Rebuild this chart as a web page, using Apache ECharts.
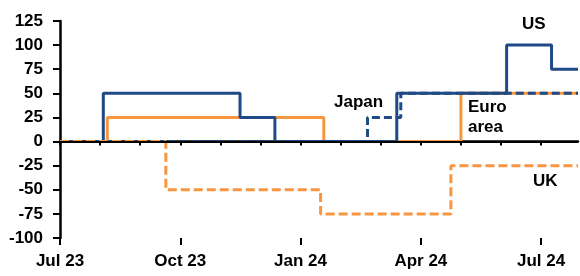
<!DOCTYPE html>
<html>
<head>
<meta charset="utf-8">
<script src="https://cdn.jsdelivr.net/npm/echarts@6/dist/echarts.min.js"></script>
<style>
  html, body { margin: 0; padding: 0; background: #fff; }
  #chart { width: 580px; height: 276px; }
</style>
</head>
<body>
<div id="chart"></div>
<script>
// x in months since Jul 23, each pair = [month, bp change] at a step
const quarterLabels = ["Jul 23", "Oct 23", "Jan 24", "Apr 24", "Jul 24"];
const usSteps = [[0, 0], [1.08, 50], [4.49, 25], [5.36, 0], [8.4, 50], [11.14, 100], [12.26, 75], [12.92, 75]];
const euroSteps = [[0, 0], [1.18, 25], [6.58, 0], [10.0, 50], [12.92, 50]];
const japanSteps = [[0, 0], [7.67, 25], [8.5, 50], [12.92, 50]];
const ukSteps = [[0, 0], [2.64, -50], [6.5, -75], [9.75, -25], [12.92, -25]];

const NAVY = "#1f4a85";
const ORANGE = "#f7963f";
const FONT = "Liberation Sans";

const chart = echarts.init(document.getElementById("chart"));

const months = [];
for (let i = 0; i <= 12; i++) months.push(i);

chart.setOption({
    animation: false,
    textStyle: { fontFamily: FONT },
    grid: { left: 60, right: 2, top: 21, bottom: 38 },
    xAxis: [
        {
            type: "value",
            min: 0,
            max: 12.92,
            axisLine: { lineStyle: { color: "#000", width: 2.5 } },
            axisTick: { customValues: months, length: 4, lineStyle: { color: "#000", width: 2 } },
            axisLabel: { show: false },
            splitLine: { show: false },
        },
        {
            type: "value",
            min: 0,
            max: 12.92,
            position: "bottom",
            axisLine: { show: false },
            axisTick: { customValues: [0, 3, 6, 9, 12], length: 7, lineStyle: { color: "#000", width: 2 } },
            axisLabel: {
                customValues: [0, 3, 6, 9, 12],
                formatter: (v) => quarterLabels[Math.round(v / 3)],
                color: "#000",
                fontWeight: "bold",
                fontSize: 17,
                margin: 15,
            },
            splitLine: { show: false },
        },
    ],
    yAxis: {
        type: "value",
        min: -100,
        max: 125,
        interval: 25,
        axisLine: { show: true, lineStyle: { color: "#000", width: 2.5 } },
        axisTick: { show: true, length: 7, lineStyle: { color: "#000", width: 2 } },
        axisLabel: { color: "#000", fontWeight: "bold", fontSize: 17, margin: 17 },
        splitLine: { show: false },
    },
    series: [
        {
            name: "US",
            type: "line",
            step: "end",
            data: usSteps,
            showSymbol: false,
            lineStyle: { color: NAVY, width: 3 },
            z: 3,
        },
        {
            name: "Euro area",
            type: "line",
            step: "end",
            data: euroSteps,
            showSymbol: false,
            lineStyle: { color: ORANGE, width: 3 },
            z: 2,
        },
        {
            name: "Japan",
            type: "line",
            step: "end",
            data: japanSteps,
            showSymbol: false,
            lineStyle: { color: NAVY, width: 3, type: [8, 4] },
            z: 4,
        },
        {
            name: "UK",
            type: "line",
            step: "end",
            data: ukSteps,
            showSymbol: false,
            lineStyle: { color: ORANGE, width: 3, type: [9, 4] },
            z: 4,
            markLine: {
                silent: true,
                symbol: "none",
                label: { show: false },
                lineStyle: { color: "#000", width: 2, type: "solid" },
                data: [{ yAxis: 0 }],
                z: 10,
            },
        },
    ],
    graphic: [
        { type: "text", left: 522, top: 16, style: { text: "US", font: "bold 17px " + FONT, fill: "#000" } },
        { type: "text", left: 334, top: 94, style: { text: "Japan", font: "bold 17px " + FONT, fill: "#000" } },
        { type: "text", left: 468, top: 99, style: { text: "Euro", font: "bold 17px " + FONT, fill: "#000" } },
        { type: "text", left: 468, top: 119, style: { text: "area", font: "bold 17px " + FONT, fill: "#000" } },
        { type: "text", left: 533, top: 173, style: { text: "UK", font: "bold 17px " + FONT, fill: "#000" } },
    ],
});
</script>
</body>
</html>
